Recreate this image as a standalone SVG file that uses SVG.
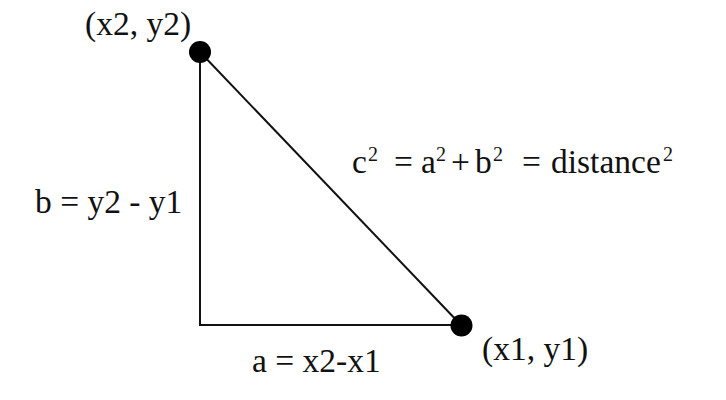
<svg xmlns="http://www.w3.org/2000/svg" width="726" height="400" viewBox="0 0 726 400">
<style>
  .t { font-family: "Liberation Serif", "Times New Roman", serif; font-size: 33.5px; fill: #111; }
  .s { font-size: 20px; }
  .edge { stroke: #111; stroke-width: 2; fill: none; }
  .pt { fill: #000; }
</style>
<rect width="726" height="400" fill="#fff"/>
<g id="connectors">
  <line class="edge" x1="200" y1="52" x2="200" y2="325"/>
  <line class="edge" x1="199" y1="325" x2="461" y2="325"/>
  <line class="edge" x1="200" y1="52" x2="461" y2="325"/>
</g>
<g id="p2">
  <circle class="pt" cx="200" cy="52" r="11"/>
  <text class="t" x="85" y="35">(x2, y2)</text>
</g>
<g id="p1">
  <circle class="pt" cx="461.5" cy="325.5" r="11"/>
  <text class="t" x="482" y="360">(x1, y1)</text>
</g>
<g id="label-b">
  <text class="t" x="35" y="213">b = y2 - y1</text>
</g>
<g id="label-a">
  <text class="t" x="252" y="372">a = x2-x1</text>
</g>
<g id="label-c">
  <text class="t" x="352" y="173">c<tspan class="s" x="368" y="161">2</tspan><tspan x="394" y="173">=</tspan><tspan x="421" y="173">a</tspan><tspan class="s" x="436" y="161">2</tspan><tspan x="451" y="173">+</tspan><tspan x="475" y="173">b</tspan><tspan class="s" x="493" y="161">2</tspan><tspan x="522" y="173">=</tspan><tspan x="551" y="173">distance</tspan><tspan class="s" x="663" y="161">2</tspan></text>
</g>
</svg>
